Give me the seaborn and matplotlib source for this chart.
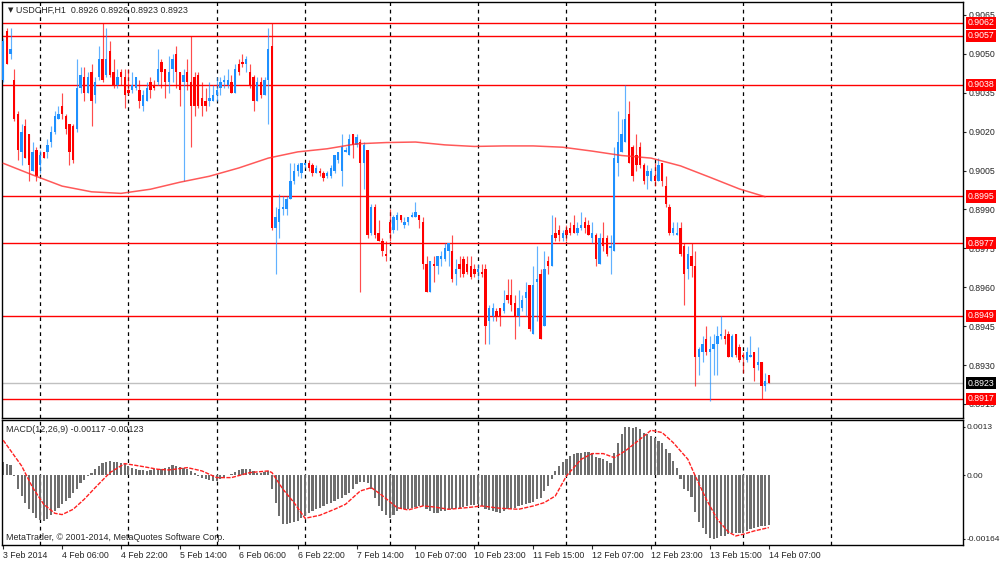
import numpy as np
import pandas as pd
import matplotlib
matplotlib.use("Agg")
import matplotlib.pyplot as plt
import matplotlib.transforms as mtransforms
import seaborn as sns

# ----------------------------------------------------------
# USDCHF H1 candles, one value per bar (bar 0 = 3 Feb 14:00)
# ----------------------------------------------------------

opens = [
    0.9040, 0.9059, 0.9050, 0.9040, 0.9027, 0.9012, 0.9022, 0.9019, 0.9005, 0.9013,
    0.9007, 0.9012, 0.9012, 0.9016, 0.9020, 0.9025, 0.9030, 0.9026, 0.9023, 0.9022,
    0.9021, 0.9037, 0.9041, 0.9035, 0.9043, 0.9034, 0.9041, 0.9048, 0.9042, 0.9051,
    0.9043, 0.9038, 0.9043, 0.9041, 0.9036, 0.9036, 0.9037, 0.9036, 0.9030, 0.9032,
    0.9039, 0.9038, 0.9039, 0.9047, 0.9044, 0.9039, 0.9044, 0.9050, 0.9043, 0.9039,
    0.9043, 0.9039, 0.9041, 0.9042, 0.9033, 0.9032, 0.9032, 0.9032, 0.9034, 0.9037,
    0.9039, 0.9038, 0.9039, 0.9035, 0.9046, 0.9047, 0.9046, 0.9043, 0.9041, 0.9032,
    0.9039, 0.9034, 0.9040, 0.9053, 0.8983, 0.8985, 0.8990, 0.8990, 0.8994, 0.9001,
    0.9005, 0.9004, 0.9007, 0.9008, 0.9007, 0.9004, 0.9005, 0.9004, 0.9003, 0.9003,
    0.9005, 0.9009, 0.9005, 0.9012, 0.9011, 0.9019, 0.9015, 0.9016, 0.9008, 0.9013,
    0.8981, 0.8991, 0.8981, 0.8978, 0.8973, 0.8985, 0.8982, 0.8986, 0.8988, 0.8984,
    0.8985, 0.8987, 0.8987, 0.8988, 0.8985, 0.8969, 0.8958, 0.8969, 0.8968, 0.8971,
    0.8971, 0.8974, 0.8974, 0.8965, 0.8969, 0.8971, 0.8969, 0.8968, 0.8967, 0.8966,
    0.8966, 0.8967, 0.8947, 0.8949, 0.8951, 0.8952, 0.8951, 0.8957, 0.8957, 0.8954,
    0.8949, 0.8952, 0.8956, 0.8961, 0.8942, 0.8962, 0.8965, 0.8945, 0.8970, 0.8968,
    0.8981, 0.8982, 0.8979, 0.8982, 0.8983, 0.8984, 0.8981, 0.8983, 0.8985, 0.8984,
    0.8979, 0.8980, 0.8969, 0.8979, 0.8979, 0.8975, 0.8974, 0.9008, 0.9012, 0.9016,
    0.9027, 0.9014, 0.9011, 0.9014, 0.9007, 0.9003, 0.9001, 0.9003, 0.9001, 0.9008,
    0.8999, 0.8991, 0.8981, 0.8980, 0.8983, 0.8976, 0.8967, 0.8972, 0.8968, 0.8933,
    0.8935, 0.8940, 0.8935, 0.8936, 0.8938, 0.8941, 0.8941, 0.8942, 0.8933, 0.8942,
    0.8937, 0.8934, 0.8932, 0.8933, 0.8935, 0.8930, 0.8931, 0.8922, 0.8926,
]

highs = [
    0.9056, 0.9060, 0.9060, 0.9044, 0.9028, 0.9023, 0.9025, 0.9019, 0.9016, 0.9014,
    0.9013, 0.9012, 0.9017, 0.9022, 0.9028, 0.9030, 0.9035, 0.9027, 0.9023, 0.9023,
    0.9048, 0.9045, 0.9045, 0.9043, 0.9046, 0.9041, 0.9053, 0.9062, 0.9060, 0.9055,
    0.9048, 0.9044, 0.9044, 0.9044, 0.9044, 0.9043, 0.9041, 0.9040, 0.9036, 0.9039,
    0.9041, 0.9040, 0.9052, 0.9048, 0.9044, 0.9049, 0.9050, 0.9053, 0.9043, 0.9044,
    0.9048, 0.9057, 0.9043, 0.9043, 0.9039, 0.9037, 0.9039, 0.9038, 0.9041, 0.9041,
    0.9042, 0.9044, 0.9042, 0.9046, 0.9048, 0.9050, 0.9049, 0.9046, 0.9042, 0.9041,
    0.9041, 0.9041, 0.9060, 0.9062, 0.8991, 0.8996, 0.8995, 0.8995, 0.9008, 0.9008,
    0.9008, 0.9008, 0.9008, 0.9009, 0.9008, 0.9007, 0.9006, 0.9005, 0.9005, 0.9007,
    0.9011, 0.9012, 0.9019, 0.9014, 0.9019, 0.9019, 0.9019, 0.9017, 0.9016, 0.9013,
    0.8992, 0.8992, 0.8986, 0.8979, 0.8978, 0.8990, 0.8988, 0.8989, 0.8988, 0.8987,
    0.8987, 0.8989, 0.8993, 0.8988, 0.8987, 0.8972, 0.8970, 0.8972, 0.8972, 0.8974,
    0.8977, 0.8977, 0.8980, 0.8971, 0.8972, 0.8972, 0.8972, 0.8972, 0.8969, 0.8969,
    0.8969, 0.8969, 0.8953, 0.8954, 0.8952, 0.8952, 0.8959, 0.8963, 0.8963, 0.8957,
    0.8959, 0.8957, 0.8962, 0.8961, 0.8968, 0.8976, 0.8967, 0.8974, 0.8972, 0.8988,
    0.8987, 0.8984, 0.8982, 0.8984, 0.8985, 0.8988, 0.8985, 0.8989, 0.8987, 0.8986,
    0.8985, 0.8981, 0.8981, 0.8985, 0.8980, 0.8980, 0.9014, 0.9028, 0.9025, 0.9038,
    0.9032, 0.9015, 0.9019, 0.9016, 0.9008, 0.9007, 0.9006, 0.9008, 0.9010, 0.9008,
    0.9003, 0.8992, 0.8985, 0.8985, 0.8985, 0.8977, 0.8976, 0.8977, 0.8974, 0.8937,
    0.8941, 0.8945, 0.8941, 0.8942, 0.8945, 0.8949, 0.8944, 0.8943, 0.8942, 0.8942,
    0.8938, 0.8935, 0.8937, 0.8941, 0.8935, 0.8937, 0.8931, 0.8927, 0.8926,
]

lows = [
    0.9039, 0.9046, 0.9048, 0.9024, 0.9009, 0.9007, 0.9010, 0.9001, 0.9005, 0.9001,
    0.9004, 0.9010, 0.9010, 0.9014, 0.9019, 0.9025, 0.9025, 0.9019, 0.9007, 0.9008,
    0.9020, 0.9035, 0.9032, 0.9035, 0.9022, 0.9031, 0.9040, 0.9039, 0.9041, 0.9041,
    0.9037, 0.9037, 0.9038, 0.9029, 0.9034, 0.9035, 0.9036, 0.9029, 0.9028, 0.9032,
    0.9033, 0.9036, 0.9038, 0.9037, 0.9033, 0.9035, 0.9039, 0.9037, 0.9030, 0.9001,
    0.9036, 0.9014, 0.9026, 0.9029, 0.9026, 0.9028, 0.9030, 0.9032, 0.9032, 0.9034,
    0.9037, 0.9037, 0.9035, 0.9035, 0.9042, 0.9045, 0.9043, 0.9037, 0.9028, 0.9032,
    0.9033, 0.9034, 0.9023, 0.8982, 0.8965, 0.8979, 0.8988, 0.8988, 0.8994, 0.9000,
    0.9003, 0.9002, 0.9006, 0.9005, 0.9003, 0.9004, 0.9003, 0.9001, 0.9002, 0.9002,
    0.9004, 0.9008, 0.8999, 0.9012, 0.9011, 0.9010, 0.9014, 0.8958, 0.8998, 0.8979,
    0.8980, 0.8979, 0.8978, 0.8972, 0.8970, 0.8978, 0.8981, 0.8982, 0.8985, 0.8983,
    0.8984, 0.8987, 0.8987, 0.8983, 0.8967, 0.8958, 0.8958, 0.8962, 0.8965, 0.8968,
    0.8970, 0.8968, 0.8962, 0.8961, 0.8964, 0.8964, 0.8965, 0.8963, 0.8964, 0.8963,
    0.8964, 0.8938, 0.8938, 0.8947, 0.8947, 0.8945, 0.8950, 0.8954, 0.8951, 0.8940,
    0.8945, 0.8951, 0.8949, 0.8943, 0.8942, 0.8947, 0.8940, 0.8945, 0.8965, 0.8968,
    0.8978, 0.8978, 0.8978, 0.8978, 0.8980, 0.8981, 0.8980, 0.8982, 0.8981, 0.8980,
    0.8977, 0.8968, 0.8969, 0.8974, 0.8972, 0.8965, 0.8974, 0.9003, 0.9012, 0.9016,
    0.9008, 0.9001, 0.9005, 0.9006, 0.9000, 0.8998, 0.9001, 0.8999, 0.9001, 0.8999,
    0.8991, 0.8980, 0.8980, 0.8980, 0.8972, 0.8953, 0.8963, 0.8964, 0.8922, 0.8926,
    0.8931, 0.8934, 0.8916, 0.8926, 0.8926, 0.8940, 0.8938, 0.8933, 0.8933, 0.8933,
    0.8931, 0.8927, 0.8931, 0.8933, 0.8924, 0.8928, 0.8917, 0.8920, 0.8923,
]

closes = [
    0.9055, 0.9046, 0.9052, 0.9025, 0.9013, 0.9020, 0.9010, 0.9007, 0.9012, 0.9003,
    0.9011, 0.9010, 0.9015, 0.9020, 0.9026, 0.9027, 0.9027, 0.9021, 0.9012, 0.9009,
    0.9037, 0.9042, 0.9035, 0.9041, 0.9032, 0.9039, 0.9048, 0.9040, 0.9048, 0.9042,
    0.9038, 0.9041, 0.9041, 0.9034, 0.9035, 0.9038, 0.9041, 0.9032, 0.9034, 0.9037,
    0.9036, 0.9037, 0.9044, 0.9043, 0.9039, 0.9043, 0.9048, 0.9043, 0.9036, 0.9042,
    0.9039, 0.9030, 0.9030, 0.9030, 0.9030, 0.9030, 0.9033, 0.9034, 0.9036, 0.9039,
    0.9040, 0.9040, 0.9035, 0.9044, 0.9043, 0.9046, 0.9048, 0.9038, 0.9032, 0.9039,
    0.9034, 0.9040, 0.9052, 0.8983, 0.8987, 0.8990, 0.8991, 0.8994, 0.9001, 0.9005,
    0.9007, 0.9008, 0.9008, 0.9006, 0.9004, 0.9006, 0.9004, 0.9002, 0.9004, 0.9006,
    0.9011, 0.9012, 0.9014, 0.9013, 0.9017, 0.9015, 0.9018, 0.9008, 0.9015, 0.8980,
    0.8991, 0.8980, 0.8978, 0.8974, 0.8972, 0.8981, 0.8987, 0.8988, 0.8986, 0.8985,
    0.8987, 0.8988, 0.8989, 0.8986, 0.8969, 0.8958, 0.8970, 0.8968, 0.8972, 0.8972,
    0.8975, 0.8977, 0.8963, 0.8967, 0.8967, 0.8965, 0.8966, 0.8964, 0.8965, 0.8967,
    0.8965, 0.8945, 0.8952, 0.8952, 0.8949, 0.8949, 0.8954, 0.8955, 0.8953, 0.8949,
    0.8952, 0.8955, 0.8958, 0.8944, 0.8961, 0.8963, 0.8940, 0.8967, 0.8968, 0.8980,
    0.8979, 0.8980, 0.8981, 0.8980, 0.8981, 0.8981, 0.8983, 0.8984, 0.8983, 0.8980,
    0.8981, 0.8971, 0.8979, 0.8976, 0.8973, 0.8976, 0.9010, 0.9016, 0.9019, 0.9025,
    0.9008, 0.9003, 0.9007, 0.9007, 0.9001, 0.9005, 0.9005, 0.9001, 0.9007, 0.9001,
    0.8992, 0.8981, 0.8983, 0.8981, 0.8973, 0.8965, 0.8973, 0.8968, 0.8933, 0.8936,
    0.8938, 0.8935, 0.8936, 0.8938, 0.8941, 0.8942, 0.8940, 0.8933, 0.8941, 0.8934,
    0.8932, 0.8933, 0.8935, 0.8934, 0.8929, 0.8931, 0.8922, 0.8924, 0.8923,
]

# moving average on the price panel, read at a few bars
ma_bar = [0, 8, 16, 24, 32, 40, 48, 56, 64, 72, 80, 88, 96, 104,
          112, 120, 128, 136, 144, 152, 160, 168, 176, 184, 192, 200, 207]
ma_val = [0.90078, 0.90033, 0.89990, 0.89968, 0.89962, 0.89978, 0.90005,
          0.90028, 0.90060, 0.90098, 0.90122, 0.90134, 0.90153, 0.90158,
          0.90160, 0.90149, 0.90143, 0.90145, 0.90145, 0.90140, 0.90125,
          0.90108, 0.90098, 0.90068, 0.90024, 0.89979, 0.89949]

# horizontal levels and price axis
levels = [0.9062, 0.9057, 0.9038, 0.8995, 0.8977, 0.8949, 0.8917]
bid = 0.8923
price_ticks = [0.9065, 0.9050, 0.9035, 0.9020, 0.9005, 0.8990,
               0.8975, 0.8960, 0.8945, 0.8930, 0.8915]

# ----------------------------------------------------------
# MACD(12,26,9)
# ----------------------------------------------------------

macd_hist = [
    0.000314, 0.000259, 0.000235, -0.000016, -0.000314, -0.000486, -0.000643, -0.000784, -0.000894, -0.000996,
    -0.001051, -0.001075, -0.001020, -0.000941, -0.000839, -0.000761, -0.000682, -0.000604, -0.000525, -0.000408,
    -0.000314, -0.000188, -0.000110, -0.000016, 0.000047, 0.000141, 0.000220, 0.000282, 0.000322, 0.000337,
    0.000322, 0.000314, 0.000282, 0.000259, 0.000220, 0.000180, 0.000157, 0.000125, 0.000118, 0.000102,
    0.000118, 0.000141, 0.000157, 0.000157, 0.000173, 0.000204, 0.000235, 0.000220, 0.000204, 0.000180,
    0.000141, 0.000102, 0.000063, -0.000016, -0.000055, -0.000094, -0.000110, -0.000133, -0.000133, -0.000094,
    -0.000055, 0.000008, 0.000039, 0.000078, 0.000118, 0.000141, 0.000157, 0.000141, 0.000102, 0.000063,
    0.000063, 0.000078, 0.000102, -0.000329, -0.000643, -0.000957, -0.001153, -0.001153, -0.001129, -0.001098,
    -0.001075, -0.000996, -0.000957, -0.000894, -0.000839, -0.000800, -0.000761, -0.000722, -0.000682, -0.000643,
    -0.000604, -0.000565, -0.000525, -0.000471, -0.000408, -0.000329, -0.000212, -0.000157, -0.000157, -0.000188,
    -0.000329, -0.000525, -0.000722, -0.000839, -0.000941, -0.000996, -0.000941, -0.000839, -0.000800, -0.000800,
    -0.000784, -0.000761, -0.000737, -0.000722, -0.000722, -0.000800, -0.000839, -0.000878, -0.000878, -0.000839,
    -0.000839, -0.000800, -0.000784, -0.000769, -0.000761, -0.000737, -0.000722, -0.000706, -0.000690, -0.000682,
    -0.000722, -0.000784, -0.000816, -0.000839, -0.000863, -0.000878, -0.000839, -0.000800, -0.000784, -0.000761,
    -0.000722, -0.000706, -0.000682, -0.000643, -0.000627, -0.000565, -0.000525, -0.000369, -0.000251, -0.000094,
    0.000102, 0.000220, 0.000314, 0.000392, 0.000455, 0.000494, 0.000518, 0.000533, 0.000549, 0.000549,
    0.000533, 0.000431, 0.000408, 0.000376, 0.000337, 0.000298, 0.000518, 0.000769, 0.000965, 0.001145,
    0.001145, 0.001122, 0.001145, 0.001098, 0.001004, 0.000965, 0.000925, 0.000886, 0.000808, 0.000769,
    0.000612, 0.000533, 0.000337, 0.000180, -0.000094, -0.000314, -0.000369, -0.000502, -0.000863, -0.001098,
    -0.001231, -0.001388, -0.001467, -0.001490, -0.001467, -0.001427, -0.001427, -0.001388, -0.001365, -0.001349,
    -0.001365, -0.001365, -0.001310, -0.001255, -0.001231, -0.001208, -0.001192, -0.001192, -0.001170,
]

sig_bar = [0, 5, 8, 11, 14, 16, 19, 22, 25, 29, 33, 38, 42, 45, 50, 54, 58, 62, 67, 72,
           73, 76, 79, 82, 86, 90, 93, 97, 100, 103, 107, 110, 114, 117, 121, 126, 130, 135, 140, 144,
           147, 150, 153, 157, 160, 163, 166, 169, 173, 176, 179, 182, 186, 188, 191, 194, 197, 199, 201, 204,
           208]
sig_val = [0.000824, 0.000220, -0.000290, -0.000682, -0.000894, -0.000925, -0.000800, -0.000565, -0.000290, 0.000063,
           0.000275, 0.000204, 0.000141, 0.000125, 0.000180, 0.000102, -0.000055, -0.000055, 0.000063, 0.000102,
           0.000063, -0.000329, -0.000643, -0.001012, -0.000941, -0.000800, -0.000682, -0.000369, -0.000290, -0.000478,
           -0.000761, -0.000816, -0.000722, -0.000745, -0.000800, -0.000761, -0.000722, -0.000776, -0.000800, -0.000722,
           -0.000643, -0.000486, -0.000016, 0.000376, 0.000510, 0.000510, 0.000416, 0.000573, 0.000847, 0.001059,
           0.001004, 0.000769, 0.000376, -0.000016, -0.000565, -0.001035, -0.001333, -0.001427, -0.001388, -0.001310,
           -0.001230]

# time axis
day_lines = [10, 34, 58, 82, 105, 129, 153, 177, 201, 225]
time_bars = [0, 16, 32, 48, 64, 80, 96, 112, 128, 144, 160, 176, 192, 208]
time_labels = ["3 Feb 2014", "4 Feb 06:00", "4 Feb 22:00", "5 Feb 14:00",
               "6 Feb 06:00", "6 Feb 22:00", "7 Feb 14:00", "10 Feb 07:00",
               "10 Feb 23:00", "11 Feb 15:00", "12 Feb 07:00", "12 Feb 23:00",
               "13 Feb 15:00", "14 Feb 07:00"]

BLUE = "#1e90ff"
RED = "#ff0000"

sns.set_style("white")
plt.rcParams["font.family"] = ["Liberation Sans", "DejaVu Sans"]

df = pd.DataFrame({"open": opens, "high": highs, "low": lows, "close": closes})
df["bar"] = np.arange(len(df))
up = df["close"] > df["open"]
colors = np.where(up, BLUE, RED)

fig = plt.figure(figsize=(10, 5.62), dpi=100)
fig.patch.set_facecolor("white")
ax = fig.add_axes([0.002, 0.25623, 0.961, 0.74021])
ax2 = fig.add_axes([0.002, 0.03025, 0.961, 0.22242])

XLIM = (-0.33, 260.74)

# ==========================================================
# Price panel
# ==========================================================

for b in day_lines:
    ax.axvline(b, color="black", lw=0.9, ls=(0, (3, 3)), zorder=1)

for lv in levels:
    ax.axhline(lv, color=RED, lw=1.0, zorder=2)
ax.axhline(bid, color="#c0c0c0", lw=1.0, zorder=2)

ax.vlines(df["bar"], df["low"], df["high"], colors=colors, lw=0.85, alpha=0.7, zorder=3)
body = (df["close"] - df["open"]).abs().clip(lower=0.00003)
ax.bar(df["bar"], body, bottom=df[["open", "close"]].min(axis=1),
       width=0.64, color=colors, linewidth=0, zorder=4)

sns.lineplot(x=ma_bar, y=ma_val, ax=ax, color="#ff3030", lw=1.1, alpha=0.8,
             sort=False, estimator=None, zorder=5)

ax.set_xlim(*XLIM)
ax.set_ylim(0.890956, 0.907001)
ax.set_xticks([])
ax.yaxis.tick_right()
ax.set_yticks(price_ticks)
ax.set_yticklabels([f"{p:.4f}" for p in price_ticks])
ax.tick_params(axis="y", length=2.5, width=0.8, labelsize=6.3, pad=1.5, right=True)
ax.set_xlabel("")
ax.set_ylabel("")
for s in ax.spines.values():
    s.set_color("black")
    s.set_linewidth(1)

trans = mtransforms.blended_transform_factory(ax.transAxes, ax.transData)
for lv in levels:
    ax.text(1.0045, lv, f"{lv:.4f}", transform=trans, ha="left", va="center",
            fontsize=6.3, color="white", clip_on=False, zorder=10,
            bbox=dict(boxstyle="square,pad=0.18", fc=RED, ec="none"))
ax.text(1.0045, bid, f"{bid:.4f}", transform=trans, ha="left", va="center",
        fontsize=6.3, color="white", clip_on=False, zorder=10,
        bbox=dict(boxstyle="square,pad=0.18", fc="black", ec="none"))

# ==========================================================
# MACD panel
# ==========================================================

for b in day_lines:
    ax2.axvline(b, color="black", lw=0.9, ls=(0, (3, 3)), zorder=1)

sns.barplot(x=df["bar"], y=macd_hist, ax=ax2, color="#6e6e6e", width=0.6,
            saturation=1, native_scale=True, errorbar=None, linewidth=0, zorder=2)
sns.lineplot(x=sig_bar, y=sig_val, ax=ax2, color="#ff2020", lw=1.0,
             linestyle=(0, (3, 1)), sort=False, estimator=None, zorder=3)

ymin, ymax = -0.00164, 0.0013
ax2.set_xlim(*XLIM)
ax2.set_ylim(ymin, ymax)
ax2.yaxis.tick_right()
span = ymax - ymin
ax2.set_yticks([ymax - span * 7 / 125, 0.0, ymin + span * 6 / 125])
ax2.set_yticklabels(["0.0013", "0.00", "-0.00164"])
ax2.tick_params(axis="y", length=1.5, width=0.8, labelsize=6.0, pad=1, right=True)
ax2.set_xticks(time_bars)
ax2.set_xticklabels(time_labels, ha="left")
ax2.tick_params(axis="x", length=3, width=0.8, labelsize=6.3, pad=1, bottom=True)
ax2.set_xlabel("")
ax2.set_ylabel("")
for s in ax2.spines.values():
    s.set_color("black")
    s.set_linewidth(1)

# ----------------------------------------------------------
# Header texts
# ----------------------------------------------------------

fig.text(0.0075, 1 - 10 / 562, "\u25bc", fontsize=5, va="center", ha="left",
         family=["DejaVu Sans"])
fig.text(0.016, 1 - 10 / 562, "USDCHF,H1  0.8926 0.8926 0.8923 0.8923",
         fontsize=6.4, va="center", ha="left")
fig.text(0.006, 1 - 429 / 562, "MACD(12,26,9) -0.00117 -0.00123",
         fontsize=6.4, va="center", ha="left")
fig.text(0.006, 1 - 538 / 562, "MetaTrader, \u00a9 2001-2014, MetaQuotes Software Corp.",
         fontsize=6.4, va="center", ha="left")

plt.savefig("out.png", dpi=100, facecolor="white")
plt.close()
